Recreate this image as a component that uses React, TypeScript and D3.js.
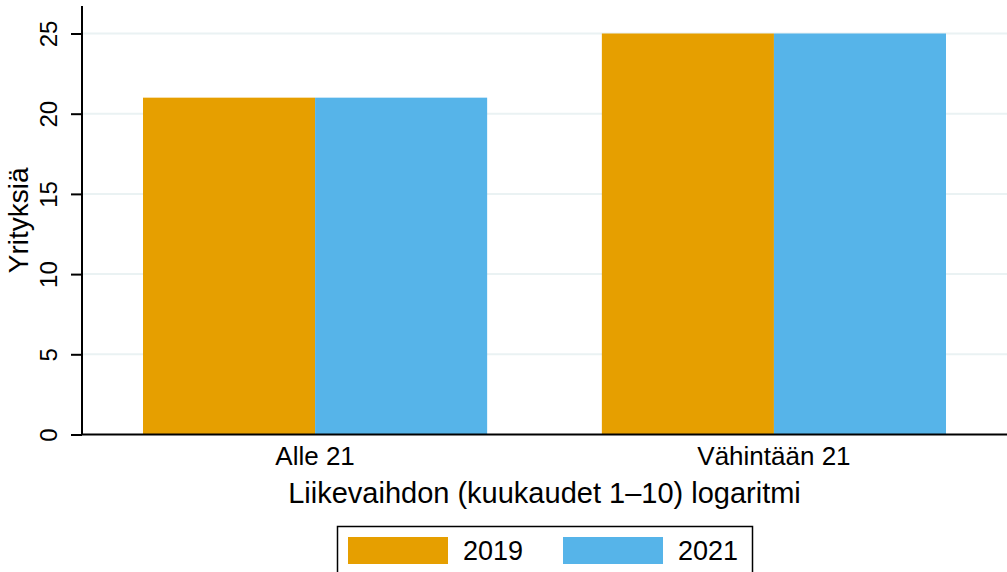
import React, { useEffect, useRef } from 'react';
import * as d3 from 'd3';

const groups = ['Alle 21', 'Vähintään 21'];
const years = ['2019', '2021'];
const values2019 = [21, 25];
const values2021 = [21, 25];
const yTicks = [0, 5, 10, 15, 20, 25];
const colors = ['#E69F00', '#56B4E9'];

const FONT = 'Liberation Sans, Arial, sans-serif';

export default function App() {
  const ref = useRef<SVGSVGElement>(null);

  useEffect(() => {
    const width = 1007;
    const height = 572;
    const left = 82;
    const right = 1007;
    const top = 6;
    const bottom = 434.5;

    const svg = d3.select(ref.current);
    svg.selectAll('*').remove();
    svg.append('rect').attr('width', width).attr('height', height).attr('fill', '#fff');

    const y = d3.scaleLinear().domain([0, 25]).range([bottom, bottom - 401]);
    const x = d3.scaleBand().domain(groups).range([143, 946]).paddingInner(0.25).paddingOuter(0);
    const xs = d3.scaleBand().domain(years).range([0, x.bandwidth()]);

    // gridlines
    svg.append('g')
      .selectAll('line')
      .data(yTicks.filter(d => d > 0))
      .enter()
      .append('line')
      .attr('x1', left)
      .attr('x2', right)
      .attr('y1', d => y(d))
      .attr('y2', d => y(d))
      .attr('stroke', '#EAF2F3')
      .attr('stroke-width', 2);

    const series = [values2019, values2021];
    const rows = groups.flatMap((g, i) => years.map((yr, j) => ({ g, yr, v: series[j][i], c: colors[j] })));

    svg.append('g')
      .selectAll('rect')
      .data(rows)
      .enter()
      .append('rect')
      .attr('x', d => (x(d.g) as number) + (xs(d.yr) as number))
      .attr('y', d => y(d.v))
      .attr('width', xs.bandwidth())
      .attr('height', d => y(0) - y(d.v))
      .attr('fill', d => d.c);

    // y axis
    const yAxis = svg.append('g')
      .attr('transform', `translate(${left},0)`)
      .call(d3.axisLeft(y).tickValues(yTicks).tickSize(11).tickPadding(13));
    yAxis.select('.domain').attr('d', `M0,${top}V${bottom}`).attr('stroke', '#000').attr('stroke-width', 2);
    yAxis.selectAll('.tick line').attr('stroke', '#000').attr('stroke-width', 2);
    yAxis.selectAll('.tick text')
      .attr('font-family', FONT)
      .attr('font-size', 24)
      .attr('fill', '#000')
      .attr('x', null)
      .attr('dy', null)
      .attr('text-anchor', 'middle')
      .attr('transform', 'translate(-25,0) rotate(-90)');

    // x axis
    const xAxis = svg.append('g')
      .attr('transform', `translate(0,${bottom})`)
      .call(d3.axisBottom(x).tickSize(0).tickPadding(0));
    xAxis.select('.domain').attr('d', `M${left},0H${right}`).attr('stroke', '#000').attr('stroke-width', 2);
    xAxis.selectAll('.tick text')
      .attr('font-family', FONT)
      .attr('font-size', 26)
      .attr('fill', '#000')
      .attr('dy', null)
      .attr('y', 30);

    svg.append('text')
      .attr('x', (left + right) / 2)
      .attr('y', 503)
      .attr('text-anchor', 'middle')
      .attr('font-family', FONT)
      .attr('font-size', 29)
      .text('Liikevaihdon (kuukaudet 1–10) logaritmi');

    svg.append('text')
      .attr('transform', `translate(28,${(top + bottom) / 2}) rotate(-90)`)
      .attr('text-anchor', 'middle')
      .attr('font-family', FONT)
      .attr('font-size', 28)
      .text('Yrityksiä');

    // legend
    const lg = svg.append('g');
    lg.append('rect')
      .attr('x', 337.5)
      .attr('y', 526.5)
      .attr('width', 415)
      .attr('height', 60)
      .attr('fill', '#fff')
      .attr('stroke', '#000')
      .attr('stroke-width', 1.5);
    const items = lg.selectAll('g.item')
      .data(years)
      .enter()
      .append('g')
      .attr('transform', (d, i) => `translate(${348 + i * 215},0)`);
    items.append('rect')
      .attr('x', 0)
      .attr('y', 537)
      .attr('width', 100)
      .attr('height', 27)
      .attr('fill', (d, i) => colors[i]);
    items.append('text')
      .attr('x', 115)
      .attr('y', 560)
      .attr('font-family', FONT)
      .attr('font-size', 27)
      .text(d => d);
  }, []);

  return (
    <div style={{ position: 'fixed', left: 0, top: 0 }}>
      <svg ref={ref} width={1007} height={572} style={{ display: 'block' }} />
    </div>
  );
}
